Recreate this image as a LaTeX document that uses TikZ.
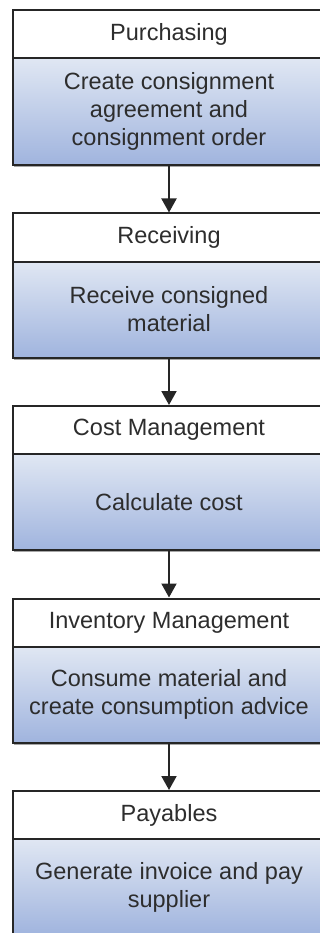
\documentclass[tikz,border=0pt]{standalone}
\usepackage{fontspec}
\setmainfont{Liberation Sans}
\usetikzlibrary{arrows.meta,shadows}
\definecolor{boxline}{RGB}{38,38,38}
\definecolor{boxtext}{RGB}{45,45,45}
\definecolor{bodytop}{RGB}{224,231,243}
\definecolor{bodybottom}{RGB}{160,180,222}
\begin{document}
\begin{tikzpicture}[x=1pt,y=-1pt,
    stagehead/.style={draw=boxline,line width=2pt,fill=white,minimum width=312pt,minimum height=48pt,inner sep=0pt,text=boxtext,font=\fontsize{23.5}{28}\selectfont,drop shadow={shadow xshift=1pt,shadow yshift=-2pt,opacity=0.35,fill=black}},
    stagebody/.style={stagehead,fill=none,top color=bodytop,bottom color=bodybottom,minimum height=96pt,align=center},
    flow/.style={-{Triangle[width=15pt,length=14pt]},line width=2pt,draw=boxline}]
    \useasboundingbox (0,0) rectangle (320,933);
    \node[stagehead] (purch) at (169,34) {Purchasing};
    \node[stagebody,minimum height=107pt] (purchbody) at (169,111.5) {Create consignment\\agreement and\\consignment order};
    \node[stagehead] (recv) at (169,237.5) {Receiving};
    \node[stagebody] (recvbody) at (169,309.5) {Receive consigned\\material};
    \node[stagehead] (cost) at (169,430) {Cost Management};
    \node[stagebody] (costbody) at (169,502) {Calculate cost};
    \node[stagehead] (inv) at (169,622.5) {Inventory Management};
    \node[stagebody] (invbody) at (169,694.5) {Consume material and\\create consumption advice};
    \node[stagehead] (pay) at (169,815) {Payables};
    \node[stagebody] (paybody) at (169,887) {Generate invoice and pay\\supplier};
    \draw [flow] (purchbody) -- (recv);
    \draw [flow] (recvbody) -- (cost);
    \draw [flow] (costbody) -- (inv);
    \draw [flow] (invbody) -- (pay);
\end{tikzpicture}
\end{document}
